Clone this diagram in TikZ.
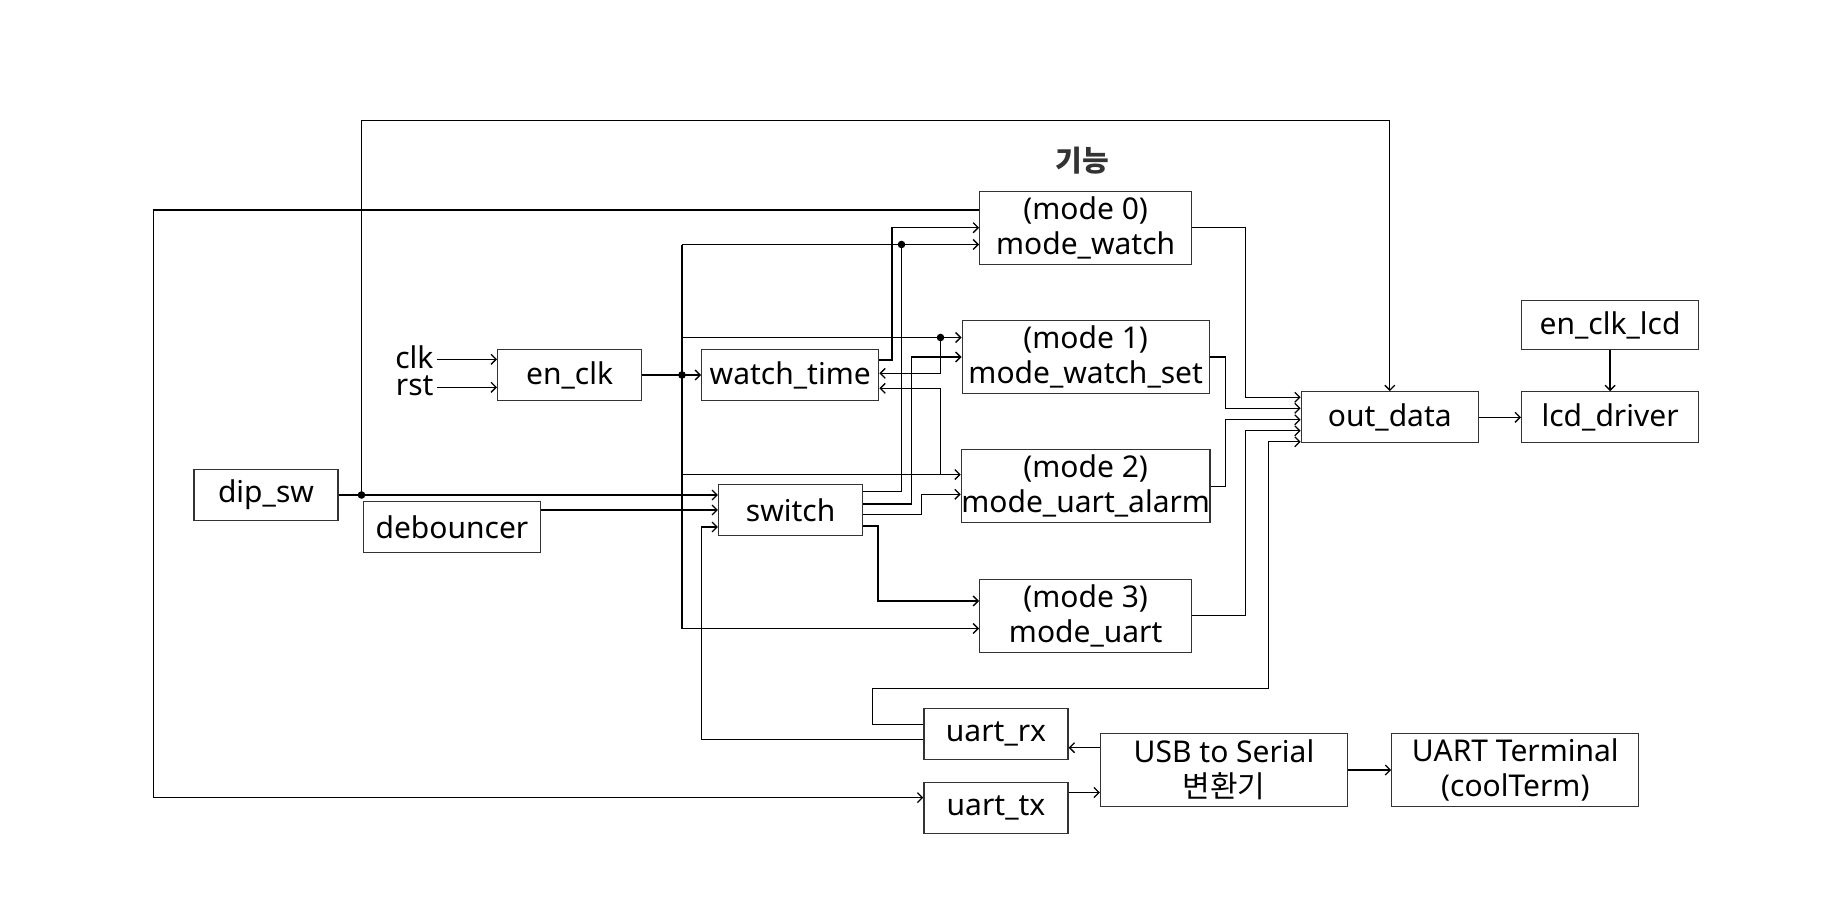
\documentclass[tikz,border=0pt]{standalone}
\usepackage{fontspec}
\setmainfont{Noto Sans}
\newfontfamily\krfont{Noto Sans CJK KR}
\usetikzlibrary{arrows.meta,positioning,calc}

\begin{document}
\begin{tikzpicture}[x=1pt,y=-1pt,
        every node/.style={font=\fontsize{30}{35}\selectfont},
        block/.style={draw=black!80,line width=1.3pt,rectangle,inner sep=0pt,minimum height=51pt,align=center},
        sbox/.style={block,minimum width=144pt},
        mbox/.style={block,minimum width=177pt},
        wbox/.style={block,minimum width=247pt,minimum height=73pt},
        modebox/.style={block,minimum width=212pt,minimum height=73pt},
        wire/.style={line width=1.3pt},
        arr/.style={wire,-{Straight Barb[length=5pt,width=10pt]}}]
   \useasboundingbox (0,0) rectangle (1846,916);
   \node[font=\krfont\bfseries\fontsize{29}{35}\selectfont,text=black!80] (title) at (1082.5,160.7) {기능};
   \node[modebox] (m0) at (1085.7,227.7) {(mode 0)\\mode\_watch};
   \node[wbox] (m1) at (1085.7,357) {(mode 1)\\mode\_watch\_set};
   \node[wbox] (m2) at (1085.7,486.3) {(mode 2)\\mode\_uart\_alarm};
   \node[modebox] (m3) at (1085.7,615.8) {(mode 3)\\mode\_uart};
   \node[mbox] (out) at (1389.8,417.3) {out\_data};
   \node[mbox,right=42pt of out] (lcd) {lcd\_driver};
   \node[mbox,above=41pt of lcd,minimum height=49pt] (enlcd) {en\_clk\_lcd};
   \node[sbox] (enclk) at (569.6,375) {en\_clk};
   \node[mbox] (wt) at (790.2,375) {watch\_time};
   \node[sbox] (sw) at (790.6,510) {switch};
   \node[sbox] (dip) at (266,495) {dip\_sw};
   \node[mbox] (deb) at (452,527) {debouncer};
   \node[sbox] (rx) at (996,733.8) {uart\_rx};
   \node[sbox,below=22pt of rx] (tx) {uart\_tx};
   \node[wbox] (usb) at (1224,770) {USB to Serial\\{\krfont 변환기}};
   \node[wbox,right=43pt of usb] (term) {UART Terminal\\(coolTerm)};
   \node[anchor=base east] (clk) at (437,368) {clk};
   \node[anchor=base east] (rst) at (437,395) {rst};

   \coordinate (bt) at (682,244.5);
   \coordinate (b1) at (682,337.5);
   \coordinate (b2) at (682,474.5);
   \coordinate (bb) at (682,628.5);
   \coordinate (jc) at (682,375);
   \coordinate (jd) at (361.5,495);
   \coordinate (j0) at (901.5,244.5);
   \coordinate (j1) at (940.5,337.5);
   \coordinate (j2) at (940.5,474.5);
   \coordinate (loop) at (1268.5,688.5);

   \draw[arr] ([yshift=8.7pt]clk.base east) -- ([yshift=15.7pt]enclk.west);
   \draw[arr] ([yshift=7.7pt]rst.base east) -- ([yshift=-12.3pt]enclk.west);
   \draw[arr] (enclk) -- (wt);
   \draw[wire] (bt) -- (bb);
   \draw[arr] (bt) -- (bt -| m0.west);
   \draw[arr] (b1) -- (b1 -| m1.west);
   \draw[arr] (b2) -- (b2 -| m2.west);
   \draw[arr] (bb) -- (bb -| m3.west);
   \draw[arr] ([yshift=15pt]wt.east) -| ([xshift=-87pt]m0.west) -- (m0.west);
   \draw[arr] (j1) |- ([yshift=1.7pt]wt.east);
   \draw[arr] (j2) |- ([yshift=-13.3pt]wt.east);
   \draw[arr] (dip) -- (dip -| sw.west);
   \draw[arr] (jd) |- ([yshift=271pt]out.north) -- (out.north);
   \draw[arr] (deb.east |- sw) -- (sw.west);
   \draw[arr] ([yshift=-5.5pt]rx.west) -| ([xshift=-16.7pt,yshift=-17pt]sw.west) -- ([yshift=-17pt]sw.west);
   \draw[wire] ([yshift=18.3pt]sw.east) -| (j0);
   \draw[arr] ([yshift=6pt]sw.east) -| ([xshift=-50pt]m1.west) -- (m1.west);
   \draw[arr] ([yshift=-4.3pt]sw.east) -| ([xshift=-39pt,yshift=-8pt]m2.west) -- ([yshift=-8pt]m2.west);
   \draw[arr] ([yshift=-16pt]sw.east) -| ([xshift=-101pt,yshift=14.8pt]m3.west) -- ([yshift=14.8pt]m3.west);
   \draw[arr] (m0.east) -| ([xshift=-55.5pt,yshift=20pt]out.west) -- ([yshift=20pt]out.west);
   \draw[arr] (m1.east) -| ([xshift=-75pt,yshift=9pt]out.west) -- ([yshift=9pt]out.west);
   \draw[arr] (m2.east) -| ([xshift=-75pt,yshift=-2.5pt]out.west) -- ([yshift=-2.5pt]out.west);
   \draw[arr] (m3.east) -| ([xshift=-55.5pt,yshift=-13.5pt]out.west) -- ([yshift=-13.5pt]out.west);
   \draw[arr] ([yshift=9.5pt]rx.west) -- ++(-51,0) |- (loop) |- ([yshift=-24.5pt]out.west);
   \draw[arr] ([yshift=17.7pt]m0.west) -| ([xshift=-769.6pt,yshift=10.5pt]tx.west) -- ([yshift=10.5pt]tx.west);
   \draw[arr] ([yshift=22.3pt]usb.west) -- ([yshift=22.3pt]usb.west -| rx.east);
   \draw[arr] ([yshift=-22.5pt]usb.west -| tx.east) -- ([yshift=-22.5pt]usb.west);
   \draw[arr] (usb) -- (term);
   \draw[arr] (out) -- (lcd);
   \draw[arr] (enlcd) -- (lcd);
   \foreach \p in {jc,jd,j0,j1} \fill (\p) circle (3.8pt);
\end{tikzpicture}
\end{document}
